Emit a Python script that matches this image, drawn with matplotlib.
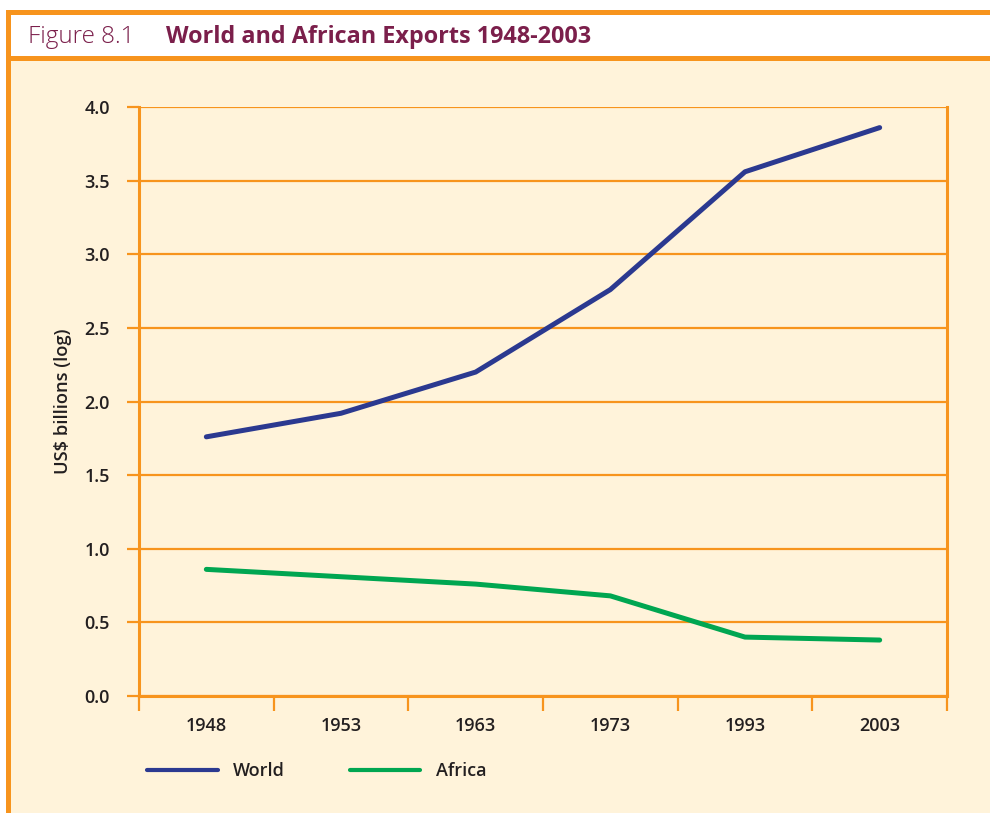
import matplotlib.pyplot as plt
from matplotlib.patches import Rectangle
from matplotlib.lines import Line2D

years = ["1948", "1953", "1963", "1973", "1993", "2003"]
world = [1.76, 1.92, 2.20, 2.76, 3.56, 3.86]
africa = [0.86, 0.81, 0.76, 0.68, 0.40, 0.38]
y_ticks = [0.0, 0.5, 1.0, 1.5, 2.0, 2.5, 3.0, 3.5, 4.0]

ORANGE = "#F7941D"
CREAM = "#FFF3DA"
BLUE = "#2B3990"
GREEN = "#00A651"
MAROON = "#7B1F4B"
TEXT = "#231F20"

plt.rcParams['font.family'] = ['Open Sans', 'DejaVu Sans']

W, H = 990, 813
fig = plt.figure(figsize=(W / 100, H / 100), dpi=100, facecolor="white")


def fx(px):
    return px / W


def fy(py):
    return 1 - py / H


# page frame: cream body, white header band, orange rules
fig.patches.append(Rectangle((fx(6), 0), 1, fy(61), transform=fig.transFigure,
                             facecolor=CREAM, edgecolor="none", zorder=0))
fig.patches.append(Rectangle((fx(6), fy(61)), 1, fy(10) - fy(61), transform=fig.transFigure,
                             facecolor="white", edgecolor="none", zorder=0))
for y0, y1 in [(10, 15), (56, 61)]:
    fig.patches.append(Rectangle((fx(6), fy(y1)), 1, fy(y0) - fy(y1), transform=fig.transFigure,
                                 facecolor=ORANGE, edgecolor="none", zorder=1))
fig.patches.append(Rectangle((fx(6), 0), fx(5), fy(10), transform=fig.transFigure,
                             facecolor=ORANGE, edgecolor="none", zorder=1))

fig.text(fx(28), fy(37), "Figure 8.1", fontsize=17.5, color=MAROON, fontweight="light",
         va="center", ha="left", zorder=3)
fig.text(fx(166), fy(37), "World and African Exports 1948-2003", fontsize=16.8,
         color=MAROON, fontweight="bold", va="center", ha="left", zorder=3)

ax = fig.add_axes([fx(139), fy(696), fx(947) - fx(139), fy(107) - fy(696)])
ax.set_zorder(5)
ax.set_facecolor("none")

x = list(range(len(years)))
ax.plot(x, world, color=BLUE, lw=3.6, solid_capstyle="round", zorder=3, label="World")
ax.plot(x, africa, color=GREEN, lw=3.6, solid_capstyle="round", zorder=3, label="Africa")

ax.set_xlim(-0.5, len(years) - 0.5)
ax.set_ylim(0, 4.0)
ax.set_yticks(y_ticks)
ax.set_yticklabels([f"{v:.1f}" for v in y_ticks], fontsize=13, fontweight="semibold", color=TEXT)
ax.grid(axis="y", color=ORANGE, lw=1.6, zorder=1)
ax.set_axisbelow(True)

ax.set_xticks([i - 0.5 for i in range(len(years) + 1)])
ax.set_xticklabels([])
ax.set_xticks(x, minor=True)
ax.set_xticklabels(years, minor=True, fontsize=13, fontweight="semibold", color=TEXT)
ax.tick_params(axis="x", which="major", length=11, width=1.6, color=ORANGE)
ax.tick_params(axis="x", which="minor", length=0, pad=15)
ax.tick_params(axis="y", length=9, width=1.6, color=ORANGE, pad=12)

for side in ["left", "bottom", "right"]:
    ax.spines[side].set_color(ORANGE)
    ax.spines[side].set_linewidth(2.2)
ax.spines["top"].set_visible(False)

ax.set_ylabel("US$ billions (log)", fontsize=13.2, fontweight="semibold", color=TEXT, labelpad=9)

handles = [Line2D([0], [0], color=BLUE, lw=3, solid_capstyle="round"),
           Line2D([0], [0], color=GREEN, lw=3, solid_capstyle="round")]
leg = fig.legend(handles, ["World", "Africa"], loc="center left",
                 bbox_to_anchor=(fx(131), fy(771)), ncol=2, frameon=False,
                 prop={"size": 13, "weight": "semibold"}, handlelength=3.9,
                 handletextpad=0.85, columnspacing=3.6, labelcolor=TEXT)
leg.set_zorder(6)

fig.savefig("out.png", dpi=100, facecolor="white")
